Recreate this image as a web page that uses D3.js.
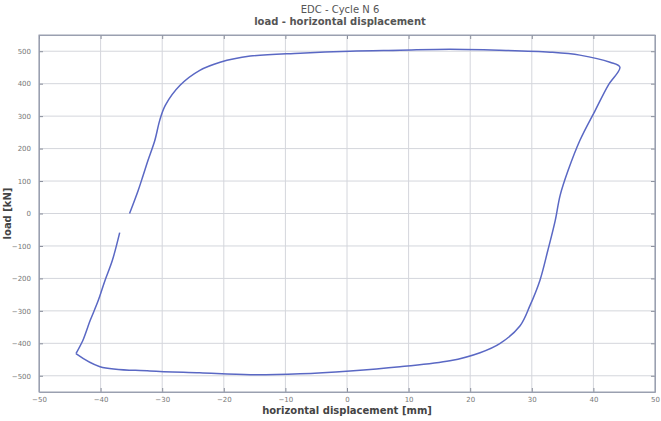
<!DOCTYPE html>
<html>
<head>
<meta charset="utf-8">
<script src="https://cdn.jsdelivr.net/npm/d3@7"></script>
<style>
  body { margin: 0; background: #fff; }
  text { font-family: "DejaVu Sans", Arial, sans-serif; }
</style>
</head>
<body>
<div id="grafico"></div>
<script>
const desplazamiento = [
  -44.0, -40.1, -32.0, -23.9, -15.7, -7.6, 0.5, 8.6, 16.7, 21.6, 24.8, 28.1, 29.7, 31.3,
  32.6, 33.8, 34.6, 35.9, 37.8, 40.3, 42.4, 44.3, 42.7, 37.8, 33.0, 24.8, 16.7, 8.6,
  0.5, -7.6, -15.7, -20.6, -23.9, -27.1, -29.5, -30.4, -31.2, -32.3, -33.1, -33.9, -35.3,
  null,
  -36.9, -38.1, -39.3, -40.4, -41.7, -42.9, -44.0
];
const carga = [
  -432, -472, -485, -491, -497, -494, -485, -472, -454, -429, -401, -346, -284, -207,
  -114, -22, 56, 133, 225, 318, 395, 451, 466, 488, 497, 503, 506, 503,
  500, 494, 485, 466, 441, 395, 333, 287, 225, 164, 117, 71, 0,
  null,
  -59, -145, -207, -269, -330, -392, -432
];
const ticksX = [-50, -40, -30, -20, -10, 0, 10, 20, 30, 40, 50];
const ticksY = [-500, -400, -300, -200, -100, 0, 100, 200, 300, 400, 500];
const titulo = ["EDC - Cycle N 6", "load - horizontal displacement"];
const etiquetaX = "horizontal displacement [mm]";
const etiquetaY = "load [kN]";

const ancho = 661, alto = 421;
const margin = { top: 35, right: 6, bottom: 29, left: 39 };
const w = ancho - margin.left - margin.right;
const h = alto - margin.top - margin.bottom;

const svg = d3.select("#grafico").append("svg")
  .attr("width", ancho).attr("height", alto);

const g = svg.append("g").attr("transform", `translate(${margin.left},${margin.top})`);

const x = d3.scaleLinear().domain([-50, 50]).range([0, w]);
const y = d3.scaleLinear().domain([-550, 550]).range([h, 0]);

// rejilla
g.append("g").selectAll("line").data(ticksX).enter().append("line")
  .attr("x1", d => x(d)).attr("x2", d => x(d)).attr("y1", 0).attr("y2", h)
  .attr("stroke", "#d4d6dc").attr("stroke-width", 1);
g.append("g").selectAll("line").data(ticksY).enter().append("line")
  .attr("y1", d => y(d)).attr("y2", d => y(d)).attr("x1", 0).attr("x2", w)
  .attr("stroke", "#d4d6dc").attr("stroke-width", 1);

// ejes
const ejeX = g.append("g").attr("transform", `translate(0,${h})`)
  .call(d3.axisBottom(x).tickValues(ticksX).tickSizeInner(-4).tickSizeOuter(0).tickPadding(5));
const ejeY = g.append("g")
  .call(d3.axisLeft(y).tickValues(ticksY).tickSizeInner(-4).tickSizeOuter(0).tickPadding(8));
const ejeX2 = g.append("g")
  .call(d3.axisTop(x).tickValues(ticksX).tickSizeInner(-4).tickSizeOuter(0).tickFormat(""));
const ejeY2 = g.append("g").attr("transform", `translate(${w},0)`)
  .call(d3.axisRight(y).tickValues(ticksY).tickSizeInner(-4).tickSizeOuter(0).tickFormat(""));

[ejeX, ejeY, ejeX2, ejeY2].forEach(e => {
  e.select(".domain").attr("stroke", "#9aa0b0");
  e.selectAll(".tick line").attr("stroke", "#8a8f9c");
  e.selectAll("text").attr("fill", "#777").style("font-size", "7px");
});

// marco
g.append("rect").attr("width", w).attr("height", h)
  .attr("fill", "none").attr("stroke", "#9aa0b0").attr("stroke-width", 1);

// curva de histéresis
const puntos = desplazamiento.map((d, i) => ({ dx: d, carga: carga[i] }));
const linea = d3.line()
  .defined(d => d.dx !== null)
  .x(d => x(d.dx))
  .y(d => y(d.carga))
  .curve(d3.curveCatmullRom.alpha(0.5));

g.append("path")
  .datum(puntos)
  .attr("d", linea)
  .attr("fill", "none")
  .attr("stroke", "#5a68c4")
  .attr("stroke-width", 1.5);

// títulos
svg.append("text").attr("x", 340).attr("y", 13).attr("text-anchor", "middle")
  .style("font-size", "10px").attr("fill", "#555").text(titulo[0]);
svg.append("text").attr("x", 340).attr("y", 25).attr("text-anchor", "middle")
  .style("font-size", "10px").style("font-weight", "bold").attr("fill", "#555").text(titulo[1]);

svg.append("text").attr("x", margin.left + w / 2).attr("y", 414).attr("text-anchor", "middle")
  .style("font-size", "10px").style("font-weight", "bold").attr("fill", "#444").text(etiquetaX);

svg.append("text")
  .attr("transform", `translate(11,${margin.top + y(0)}) rotate(-90)`)
  .attr("text-anchor", "middle")
  .style("font-size", "10px").style("font-weight", "bold").attr("fill", "#444").text(etiquetaY);
</script>
</body>
</html>
